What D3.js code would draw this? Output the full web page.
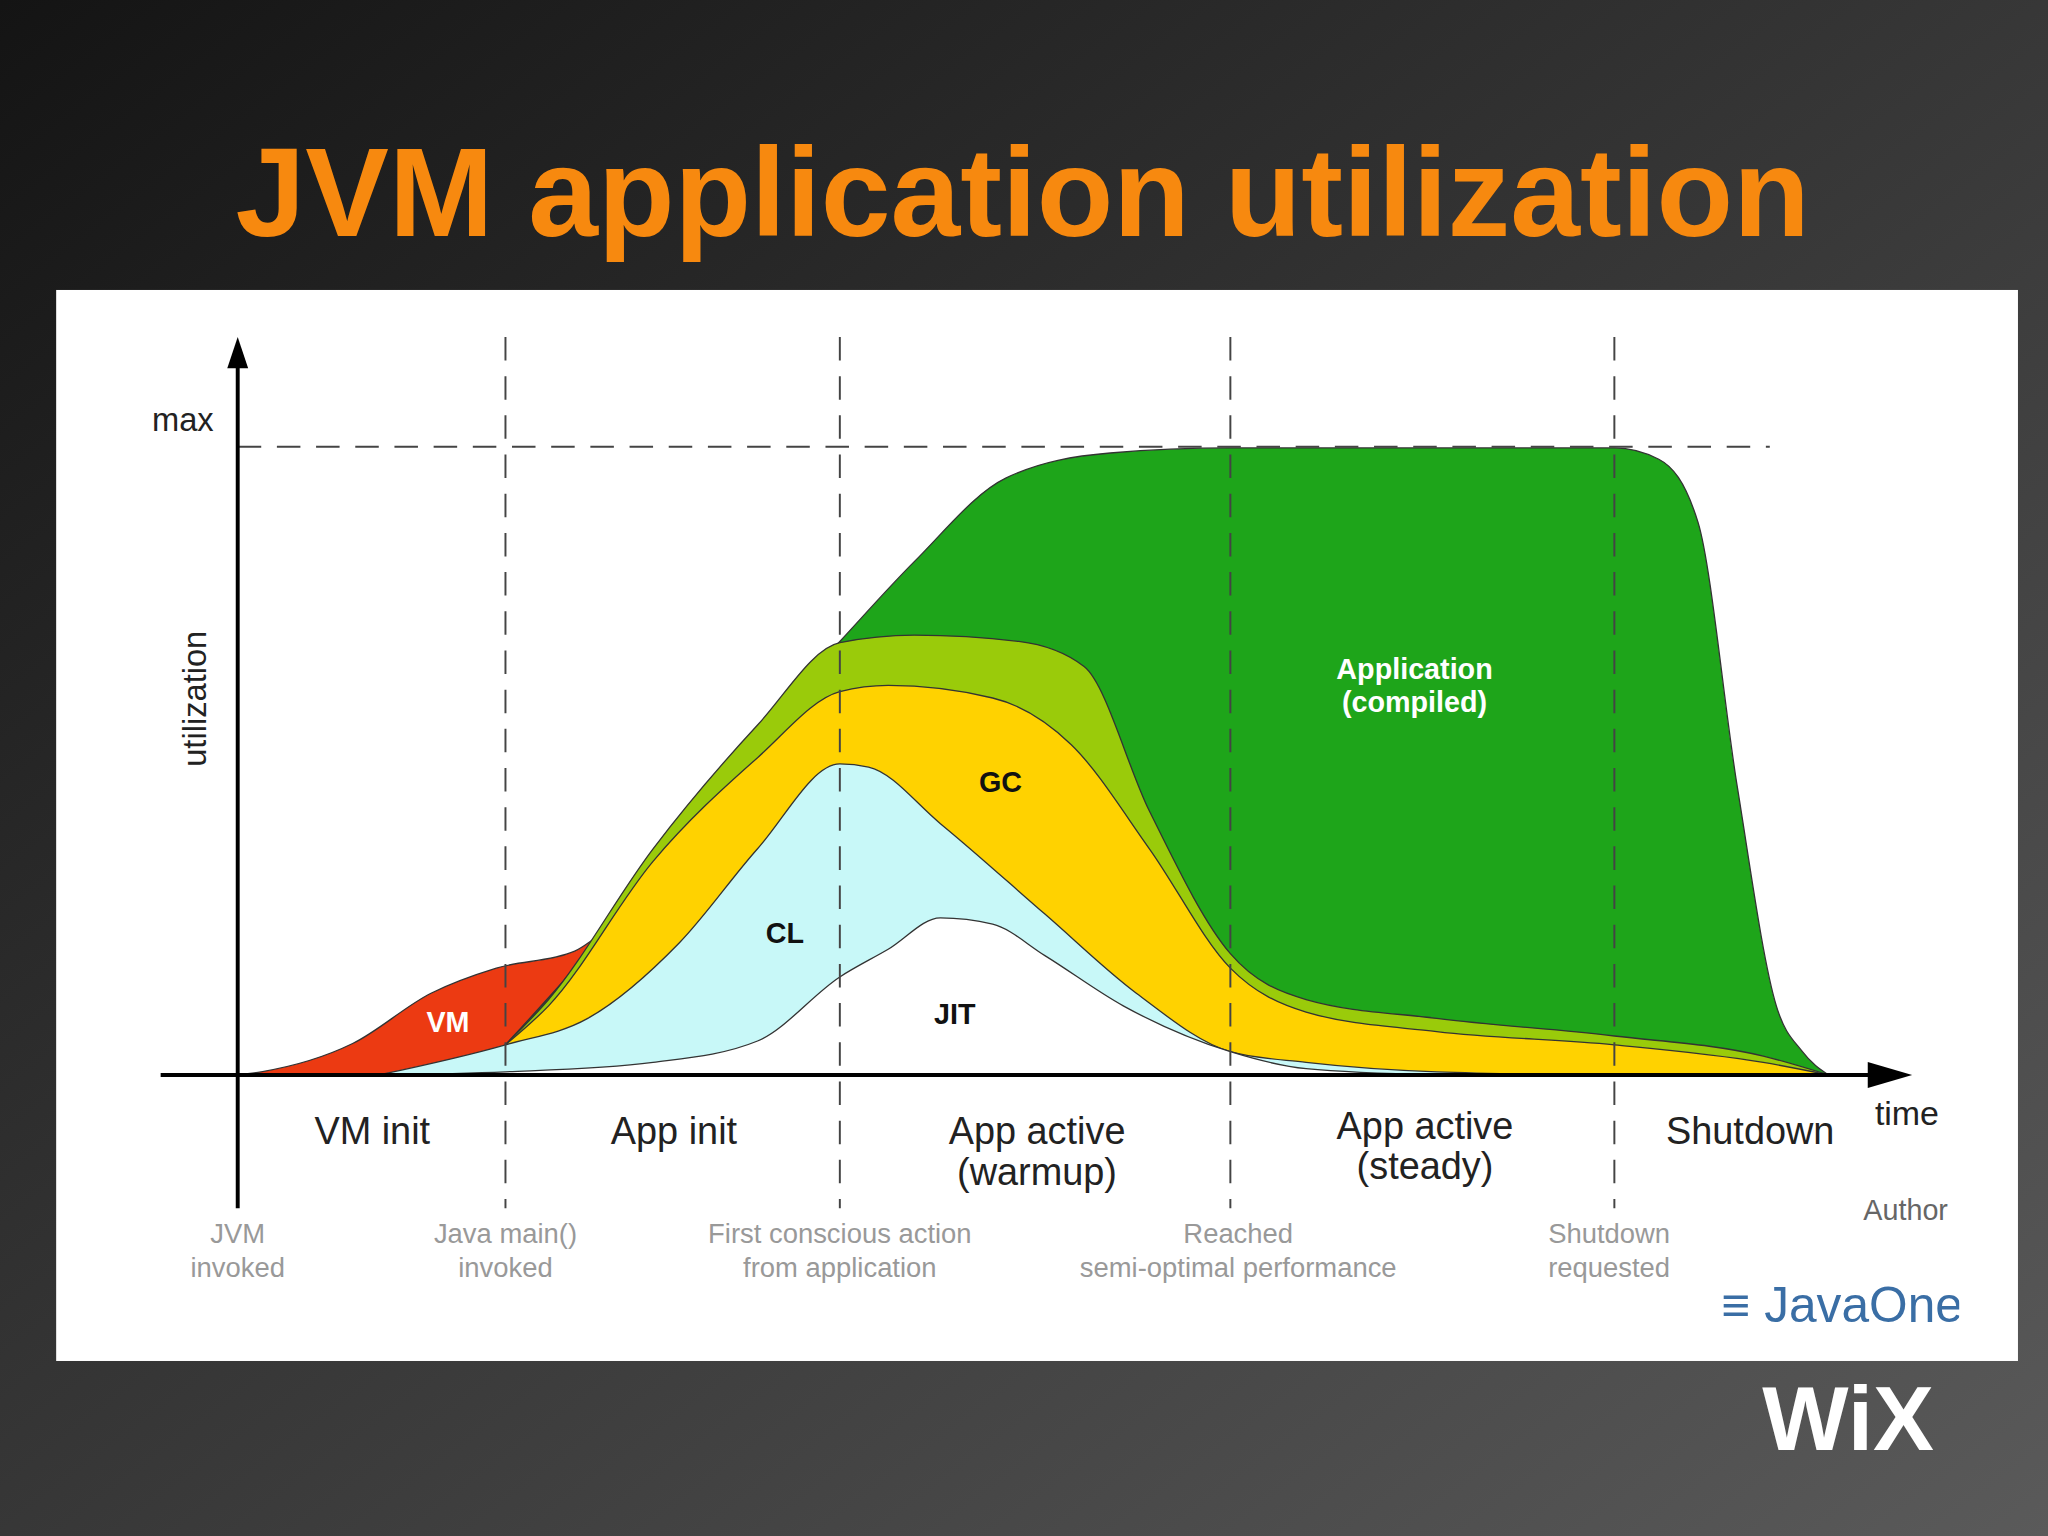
<!DOCTYPE html>
<html><head><meta charset="utf-8">
<script src="https://cdn.jsdelivr.net/npm/d3@7"></script>
<style>html,body{margin:0;padding:0;background:#222;overflow:hidden}</style>
</head><body>
<svg id="c" width="2048" height="1536" viewBox="0 0 1568 1176"></svg>
<script>
// time units (arbitrary) vs utilization percent (0..100 = max)
const vmLayer = [[0,0],[1.8,0.5],[8.8,5],[14.8,13],[19.8,17],[25.8,19.7],[28.8,23],[30,23]];
const appLayer = [[20.5,4.8],[27.8,21.8],[39.8,54.7],[46.1,69],[51.8,81.7],[58.8,95],[66.8,99],[76,99.8],[105.4,99.8],[108.8,98],[111.8,88],[114.8,46],[117.8,11],[119.8,3.7],[121.8,0]];
const lightGreenLayer = [[20.5,4.8],[23.8,12],[31.8,36],[39.8,55.7],[46.1,68.8],[51.8,70],[59.8,69],[64.8,65],[69.8,42],[76,19.3],[81.8,12],[91.8,9],[105.4,6.2],[116.8,3],[121.8,0]];
const gcLayer = [[20.5,4.8],[23.8,11],[31.8,34],[39.8,50.5],[46.1,61],[49.8,62],[57.8,60],[63.8,52.6],[69.8,36],[76,17],[81.8,10],[91.8,6.9],[105.4,4.8],[116.8,2],[121.8,0]];
const clLayer = [[10.8,0],[20.5,4.8],[26.8,9],[33.8,21],[39.8,36],[46.1,49.5],[48.3,49],[53.8,40],[61.8,25.6],[68.8,13],[76,3.7],[81.8,2],[91.8,0.5],[105.4,0]];
const jitLayer = [[10.8,0],[20.5,0.5],[31.8,2],[39.8,5.4],[46.1,15.6],[49.8,20],[53.8,25],[57.8,24],[61.8,19],[67.8,11],[76,3.7],[81.8,1],[91.8,0]];
const phaseTicks = [20.5, 46.1, 76, 105.4];
const phaseNames = [["VM init"],["App init"],["App active","(warmup)"],["App active","(steady)"],["Shutdown"]];
const phaseCenters = [10.3, 33.4, 61.2, 90.9, 115.8];
const phaseY = [866, 866, 866, 862, 866];
const milestones = [[0,["JVM","invoked"]],[20.5,["Java main()","invoked"]],[46.1,["First conscious action","from application"]],[76.6,["Reached","semi-optimal performance"]],[105,["Shutdown","requested"]]];

const svg = d3.select("#c");
const defs = svg.append("defs");
const g = defs.append("linearGradient").attr("id","bg").attr("x1","0").attr("y1","0").attr("x2","1").attr("y2","1");
g.append("stop").attr("offset","0").attr("stop-color","#141414");
g.append("stop").attr("offset","1").attr("stop-color","#5a5a5a");
svg.append("rect").attr("width",1568).attr("height",1176).attr("fill","url(#bg)");
svg.append("text").attr("x",783).attr("y",181).attr("text-anchor","middle")
  .attr("font-family","Liberation Sans, Arial").attr("font-weight","bold").attr("font-size",96)
  .attr("fill","#f7890f").text("JVM application utilization");
svg.append("rect").attr("x",43).attr("y",222).attr("width",1502).attr("height",820).attr("fill","#fff");

const x = d3.scaleLinear().domain([0,121.8]).range([182,1400]);
const y = d3.scaleLinear().domain([0,100]).range([823,342]);
const area = d3.area().x(d=>x(d[0])).y0(y(0)).y1(d=>y(d[1])).curve(d3.curveMonotoneX);
const F = "Liberation Sans, Arial";

[[vmLayer,"#ec3a12"],[appLayer,"#1ea51a"],[lightGreenLayer,"#9acb0a"],[gcLayer,"#ffd200"],[clLayer,"#c8f8f8"],[jitLayer,"#ffffff"]]
 .forEach(([d,c])=>svg.append("path").attr("d",area(d)).attr("fill",c).attr("stroke","#333").attr("stroke-width",1));

svg.append("line").attr("x1",182).attr("x2",1355).attr("y1",y(100)).attr("y2",y(100))
  .attr("stroke","#444").attr("stroke-width",1.5).attr("stroke-dasharray","18,12");
phaseTicks.forEach(t=>svg.append("line").attr("x1",x(t)).attr("x2",x(t)).attr("y1",258).attr("y2",925)
  .attr("stroke","#444").attr("stroke-width",1.5).attr("stroke-dasharray","18,12"));
svg.append("line").attr("x1",182).attr("x2",182).attr("y1",925).attr("y2",275).attr("stroke","#000").attr("stroke-width",3);
svg.append("path").attr("d","M182,258 L174,282 L190,282 Z").attr("fill","#000");
svg.append("line").attr("x1",123).attr("x2",1440).attr("y1",823).attr("y2",823).attr("stroke","#000").attr("stroke-width",3);
svg.append("path").attr("d","M1464,823 L1430,813 L1430,833 Z").attr("fill","#000");

const T=(xx,yy,s,opt={})=>svg.append("text").attr("x",xx).attr("y",yy).attr("font-family",F)
  .attr("font-size",opt.size||24).attr("fill",opt.fill||"#222").attr("font-weight",opt.bold?"bold":"normal")
  .attr("text-anchor",opt.anchor||"middle").text(s);
T(140,330,"max",{size:25});
svg.append("text").attr("transform","translate(158,535) rotate(-90)").attr("text-anchor","middle")
  .attr("font-family",F).attr("font-size",25).attr("fill","#222").text("utilization");
T(1460,861,"time",{size:26});
phaseNames.forEach((n,i)=>n.forEach((s,j)=>T(x(phaseCenters[i]),phaseY[i]+10+j*31,s,{size:29})));
milestones.forEach(([t,ls])=>ls.forEach((s,j)=>T(x(t),952+j*26,s,{size:21,fill:"#999"})));
T(1459,934,"Author",{size:22,fill:"#666"});
T(343,790,"VM",{size:22,bold:true,fill:"#fff"});
T(601,722,"CL",{size:22,bold:true,fill:"#111"});
T(731,784,"JIT",{size:22,bold:true,fill:"#111"});
T(766,606,"GC",{size:22,bold:true,fill:"#111"});
T(1083,520,"Application",{size:22,bold:true,fill:"#fff"});
T(1083,545,"(compiled)",{size:22,bold:true,fill:"#fff"});
svg.append("clipPath").attr("id","jc").append("rect").attr("x",1300).attr("y",970).attr("width",200).attr("height",60);
svg.append("text").attr("clip-path","url(#jc)").attr("x",1318).attr("y",1012).attr("font-family",F).attr("font-size",38)
  .attr("fill","#3a6ea5").text("≡ JavaOne");
T(1415,1110,"WiX",{size:70,bold:true,fill:"#fff"});
</script>
</body></html>
